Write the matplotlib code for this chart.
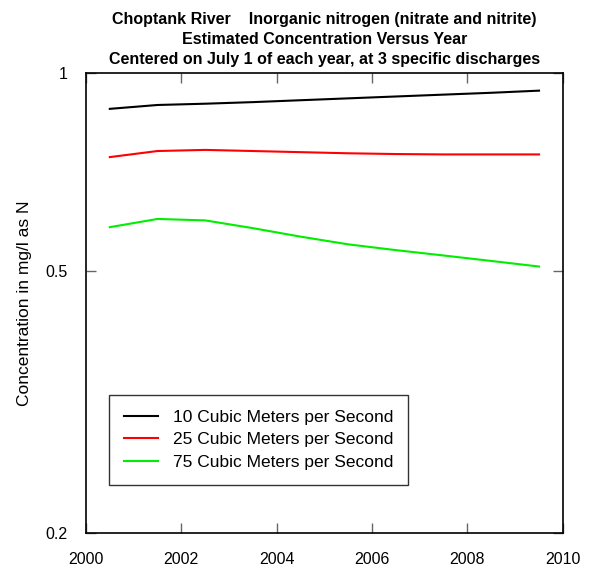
import numpy as np
import matplotlib.pyplot as plt

plt.rcParams['font.family'] = ['Liberation Sans', 'DejaVu Sans']

years = [2000.5, 2001.5, 2002.5, 2003.5, 2004.5, 2005.5, 2006.5, 2007.5, 2008.5, 2009.5]
q10 = [0.882, 0.894, 0.898, 0.903, 0.909, 0.915, 0.921, 0.927, 0.933, 0.940]
q25 = [0.745, 0.761, 0.764, 0.761, 0.758, 0.755, 0.753, 0.752, 0.752, 0.752]
q75 = [0.583, 0.600, 0.597, 0.581, 0.564, 0.549, 0.538, 0.528, 0.518, 0.508]

labels = ['10 Cubic Meters per Second', '25 Cubic Meters per Second', '75 Cubic Meters per Second']
colors = ['black', 'red', '#00ee00']

yticks = [0.2, 0.5, 1]
ytick_labels = ['0.2', '0.5', '1']
xticks = [2000, 2002, 2004, 2006, 2008, 2010]

fig = plt.figure(figsize=(5.95, 5.7), dpi=100)
ax = fig.add_axes([0.1445, 0.065, 0.8015, 0.807])

for y, c, lab in zip([q10, q25, q75], colors, labels):
    ax.plot(years, y, color=c, lw=1.5, label=lab)

ax.set_yscale('log')
ax.set_ylim(0.2, 1)
ax.set_xlim(2000, 2010)
ax.set_yticks(yticks)
ax.set_yticklabels(ytick_labels)
ax.yaxis.set_minor_locator(plt.NullLocator())
ax.set_xticks(xticks)
ax.tick_params(direction='in', length=7, color='#666666', top=True, right=True,
               labelsize=11.5, width=1)
ax.tick_params(axis='x', pad=14)
ax.tick_params(axis='y', pad=13.5)
for s in ax.spines.values():
    s.set_linewidth(1.2)

ax.set_ylabel('Concentration in mg/l as N', fontsize=12.5, labelpad=9)
ax.set_title('Choptank River    Inorganic nitrogen (nitrate and nitrite)\n'
             'Estimated Concentration Versus Year\n'
             'Centered on July 1 of each year, at 3 specific discharges',
             fontsize=11.5, fontweight='bold', linespacing=1.42, pad=6.5)

leg = ax.legend(loc='upper left', bbox_to_anchor=(0.048, 0.3), fontsize=12.5,
                frameon=True, fancybox=False, edgecolor='black',
                handlelength=2.0, handletextpad=0.85, borderpad=0.85,
                labelspacing=0.43, borderaxespad=0)
leg.get_frame().set_linewidth(1.0)

fig.savefig('out.png', dpi=100)
